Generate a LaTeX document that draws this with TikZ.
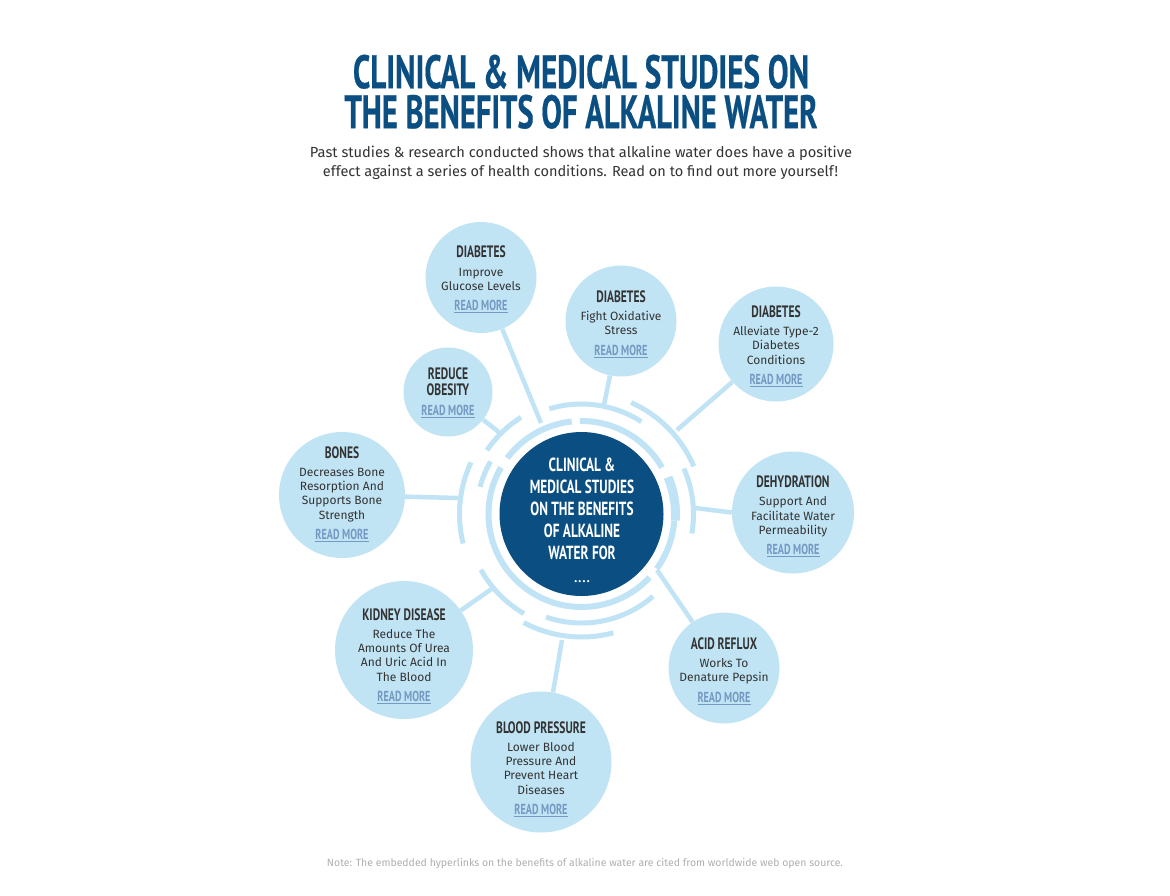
\documentclass[tikz,border=0pt]{standalone}
\usepackage{fontspec}
\usepackage{graphicx}
\setmainfont{Fira Sans}
\newfontfamily\condfont[FakeStretch=0.7]{PT Sans}
\newfontfamily\titlefont[FakeBold=0.6]{PT Sans}
\usetikzlibrary{calc}
\definecolor{navy}{HTML}{0B4F82}
\definecolor{lblue}{HTML}{C1E4F5}
\definecolor{ringc}{HTML}{C0E4F5}
\definecolor{txt}{HTML}{333333}
\definecolor{morec}{HTML}{7499C2}
\definecolor{notec}{HTML}{AFAFAF}
\newcommand\hd[1]{{\condfont\bfseries\fontsize{16.5}{15}\selectfont #1}}
\newcommand\readmore{{\condfont\bfseries\fontsize{14.5}{14}\selectfont\color{morec}\underline{READ MORE}}}
\newcommand\ringarc[4]{\draw[ring,line width=#4] ([shift={(-#2:#1)}]cc.center) arc[start angle=-#2, end angle=-#3, radius=#1];}
\begin{document}
\begin{tikzpicture}[x=1pt,y=-1pt,
  bub/.style={circle, fill=lblue, inner sep=0pt},
  btxt/.style={align=center, text=txt, inner sep=0pt, font=\fontsize{12}{14.3}\selectfont},
  conn/.style={draw=ringc, line width=4.5pt},
  ring/.style={draw=ringc, line cap=butt},
]
\fill[white] (0,0) rectangle (1170,895);
\useasboundingbox (0,0) rectangle (1170,895);

% title
\node[anchor=north, inner sep=0pt, text=navy, align=center, font=\fontsize{10}{40}\selectfont] (t1) at (581,54.5)
  {\resizebox{456pt}{33.5pt}{\titlefont\bfseries CLINICAL \& MEDICAL STUDIES ON}\\\resizebox{473pt}{33.5pt}{\titlefont\bfseries THE BENEFITS OF ALKALINE WATER}};
\node[anchor=base, inner sep=0pt, text=txt] (s1) at (581,157.5) {\resizebox{542pt}{!}{\fontsize{15}{18}\selectfont Past studies \& research conducted shows that alkaline water does have a positive}};
\node[anchor=base, inner sep=0pt, text=txt] (s2) at (580.5,176.5) {\resizebox{515pt}{!}{\fontsize{15}{18}\selectfont effect against a series of health conditions. Read on to find out more yourself!}};

% center
\node[circle, fill=navy, minimum size=164pt, inner sep=0pt] (cc) at (581.5,514) {};
\node[align=center, text=white, inner sep=0pt, font=\condfont\bfseries\fontsize{19}{22}\selectfont] (ct) at (582,520.5)
  {CLINICAL \&\\MEDICAL STUDIES\\ON THE BENEFITS\\OF ALKALINE\\WATER FOR\\[1.5pt]{\normalfont\bfseries\fontsize{12}{12}\selectfont .\hspace{1.3pt}.\hspace{1.3pt}.\hspace{1.3pt}.}};

% rings
\ringarc{93}{324}{356}{6pt}
\ringarc{94}{356}{383}{9pt}
\ringarc{93}{30}{91}{6pt}
\ringarc{93}{96}{143}{6pt}
\ringarc{93}{150}{317}{6pt}
\ringarc{112}{350}{384}{5pt}
\ringarc{110}{57}{107}{5pt}
\ringarc{114}{122}{146}{5pt}
\ringarc{105}{150}{165}{5pt}
\ringarc{115}{209}{240}{5pt}
\ringarc{109}{251}{311}{5pt}
\ringarc{122}{23}{66}{5pt}
\ringarc{122}{155}{194}{5pt}
\ringarc{123}{242}{285}{5pt}

% bubbles
\node[bub, minimum size=111pt] (d1) at (481,277.5) {};
\node[bub, minimum size=111pt] (d2) at (621,321) {};
\node[bub, minimum size=115pt] (d3) at (776,344) {};
\node[bub, minimum size=89pt] (ob) at (448,392) {};
\node[bub, minimum size=126pt] (bo) at (342,495) {};
\node[bub, minimum size=122pt] (de) at (793,512.5) {};
\node[bub, minimum size=138pt] (ki) at (404,650) {};
\node[bub, minimum size=141pt] (bp) at (541,762) {};
\node[bub, minimum size=111pt] (ac) at (724,668) {};

% connector ends
\coordinate (e1) at (541,423);
\coordinate (e2) at (604,405);
\coordinate (e3) at (677,430);
\coordinate (e4) at (500,433);
\coordinate (e5) at (458,498);
\coordinate (e6) at (695,508);
\coordinate (e7) at (493,588);
\coordinate (e8) at (562,640);
\coordinate (e9) at (657,570);
\draw[conn] (d1) -- (e1);
\draw[conn] (d2) -- (e2);
\draw[conn] (d3) -- (e3);
\draw[conn] (ob) -- (e4);
\draw[conn] (bo) -- (e5);
\draw[conn] (de.west) -- (e6);
\draw[conn] (ki) -- (e7);
\draw[conn] (bp) -- (e8);
\draw[conn] (ac) -- (e9);

% bubble texts
\node[btxt] (d1t) at ($(d1)+(0,2)$) {\hd{DIABETES}\\[4pt]Improve\\Glucose Levels\\[6pt]\readmore};
\node[btxt] (d2t) at ($(d2)+(0,3)$) {\hd{DIABETES}\\[4pt]Fight Oxidative\\Stress\\[6pt]\readmore};
\node[btxt] (d3t) at ($(d3)+(0,2)$) {\hd{DIABETES}\\[4pt]Alleviate Type-2\\Diabetes\\Conditions\\[6pt]\readmore};
\node[btxt] (obt) at ($(ob)+(0,1)$) {\hd{REDUCE}\\[1pt]\hd{OBESITY}\\[6pt]\readmore};
\node[btxt] (bot) at ($(bo)+(0,-1)$) {\hd{BONES}\\[4pt]Decreases Bone\\Resorption And\\Supports Bone\\Strength\\[6pt]\readmore};
\node[btxt] (det) at ($(de)+(0,4)$) {\hd{DEHYDRATION}\\[4pt]Support And\\Facilitate Water\\Permeability\\[6pt]\readmore};
\node[btxt] (kit) at ($(ki)+(0,6)$) {\hd{KIDNEY DISEASE}\\[4pt]Reduce The\\Amounts Of Urea\\And Uric Acid In\\The Blood\\[6pt]\readmore};
\node[btxt] (bpt) at ($(bp)+(0,7)$) {\hd{BLOOD PRESSURE}\\[4pt]Lower Blood\\Pressure And\\Prevent Heart\\Diseases\\[6pt]\readmore};
\node[btxt] (act) at ($(ac)+(0,3)$) {\hd{ACID REFLUX}\\[4pt]Works To\\Denature Pepsin\\[6pt]\readmore};

% footnote
\node[anchor=base, inner sep=0pt, text=notec] (fn) at (585,866.5) {\resizebox{516pt}{!}{\fontsize{10}{12}\selectfont Note: The embedded hyperlinks on the benefits of alkaline water are cited from worldwide web open source.}};
\end{tikzpicture}
\end{document}
